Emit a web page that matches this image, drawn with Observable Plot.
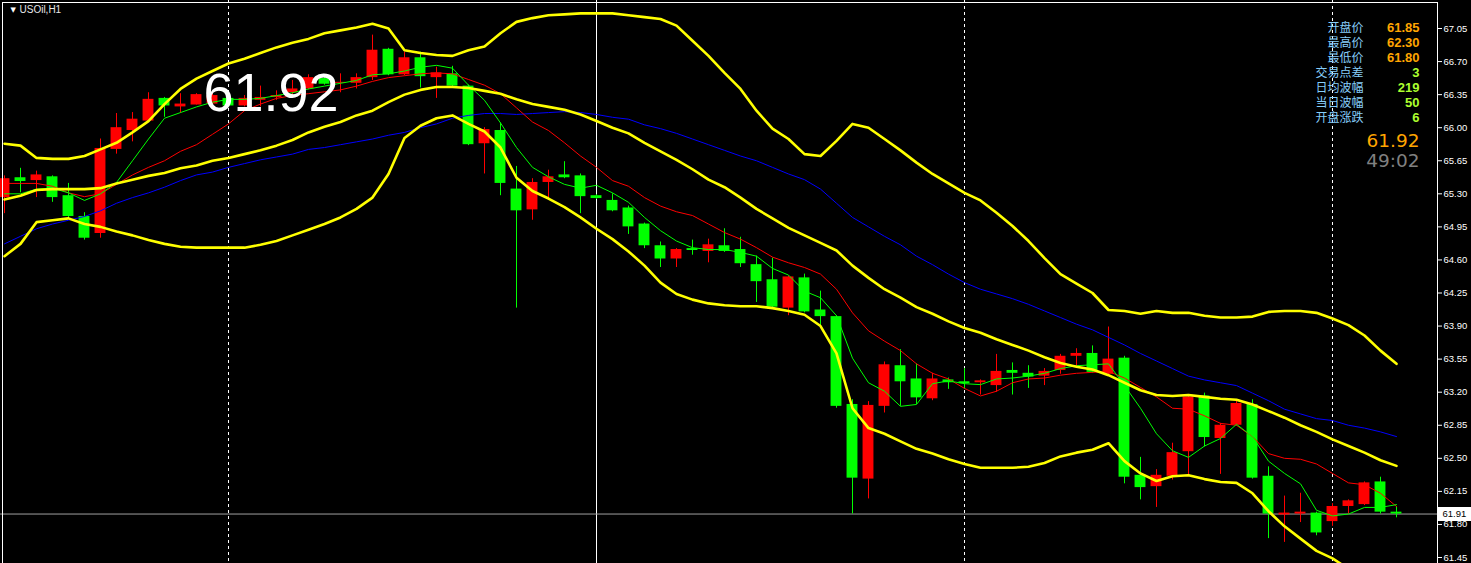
<!DOCTYPE html>
<html>
<head>
<meta charset="utf-8">
<script src="https://cdn.jsdelivr.net/npm/d3@7"></script>
<script src="https://cdn.jsdelivr.net/npm/@observablehq/plot@0.6"></script>
<style>
  html, body { margin: 0; padding: 0; background: #000; overflow: hidden; }
  #chart svg { display: block; }
</style>
</head>
<body>
<div id="chart"></div>
<script>
// ---------- DATA ----------
const symbolLabel = "USOil,H1";
const bigPriceLabel = "61.92";

const opens  = [65.26,65.47,65.44,65.48,65.28,65.06,64.88,65.77,65.97,66.07,66.31,66.22,66.24,66.25,66.31,66.23,66.29,66.32,66.37,66.41,66.52,66.47,66.47,66.53,66.83,66.56,66.74,66.53,66.57,66.44,65.83,65.97,65.35,65.13,65.42,65.50,65.49,65.28,65.23,65.15,64.98,64.75,64.61,64.72,64.69,64.75,64.71,64.55,64.39,64.09,64.41,64.07,64.00,63.07,62.28,63.05,63.48,63.34,63.13,63.33,63.31,63.30,63.27,63.43,63.40,63.37,63.43,63.58,63.61,63.39,63.56,62.32,62.20,62.31,62.57,63.16,62.71,62.85,63.07,62.31,61.90,61.91,61.92,61.83,61.99,62.01,62.25,61.93];
const highs  = [65.49,65.57,65.54,65.49,65.41,65.10,65.88,66.15,66.16,66.37,66.32,66.36,66.36,66.36,66.32,66.34,66.44,66.39,66.50,66.56,66.53,66.57,66.57,66.98,66.84,66.80,66.80,66.64,66.65,66.45,66.00,66.05,65.59,65.46,65.55,65.64,65.51,65.29,65.30,65.17,64.99,64.79,64.72,64.81,64.82,64.93,64.84,64.64,64.62,64.43,64.45,64.27,64.01,63.12,63.10,63.52,63.65,63.50,63.40,63.35,63.45,63.33,63.60,63.51,63.48,63.45,63.60,63.66,63.69,63.89,63.58,62.51,62.38,62.66,63.16,63.19,62.87,63.11,63.12,62.41,62.10,62.13,61.93,62.02,62.06,62.25,62.30,61.99];
const lows   = [65.09,65.31,65.26,65.21,65.04,64.81,64.83,65.72,65.85,66.06,66.11,66.15,66.24,66.24,66.22,66.22,66.22,66.29,66.31,66.40,66.45,66.37,66.41,66.50,66.55,66.55,66.42,66.31,66.42,65.81,65.51,65.28,64.09,65.02,65.26,65.46,65.09,65.24,65.11,64.87,64.72,64.52,64.52,64.65,64.57,64.68,64.52,64.15,64.08,64.01,64.04,63.90,63.03,61.91,62.07,62.98,63.05,63.07,63.11,63.23,63.23,63.17,63.20,63.17,63.24,63.27,63.39,63.47,63.40,63.38,62.23,62.06,61.98,62.27,62.31,62.62,62.33,62.84,62.28,61.65,61.61,61.82,61.68,61.78,61.91,62.00,61.91,61.87];
const closes = [65.46,65.43,65.50,65.26,65.06,64.83,65.78,66.00,66.09,66.30,66.23,66.25,66.35,66.34,66.23,66.31,66.32,66.34,66.41,66.53,66.46,66.48,66.53,66.82,66.56,66.74,66.54,66.58,66.44,65.82,65.98,65.41,65.12,65.42,65.48,65.47,65.27,65.25,65.12,64.95,64.75,64.61,64.71,64.70,64.76,64.69,64.56,64.37,64.10,64.42,64.05,64.00,63.05,62.29,63.06,63.49,63.31,63.14,63.34,63.30,63.29,63.32,63.42,63.40,63.36,63.42,63.58,63.61,63.41,63.55,62.30,62.19,62.32,62.56,63.15,62.72,62.85,63.08,62.29,61.91,61.92,61.93,61.71,61.99,62.05,62.24,61.93,61.91];

// Bollinger bands (yellow)
const bbUpper  = [65.83,65.81,65.68,65.67,65.67,65.70,65.77,65.84,65.95,66.07,66.25,66.41,66.52,66.60,66.68,66.73,66.79,66.85,66.90,66.94,67.00,67.03,67.06,67.10,67.05,66.82,66.79,66.77,66.76,66.82,66.86,67.00,67.12,67.16,67.19,67.20,67.21,67.21,67.21,67.19,67.17,67.15,67.08,66.92,66.76,66.58,66.41,66.18,65.99,65.88,65.72,65.70,65.86,66.04,66.00,65.88,65.76,65.63,65.51,65.41,65.31,65.23,65.10,64.96,64.80,64.62,64.45,64.35,64.25,64.07,64.06,64.03,64.06,64.04,64.04,64.01,63.99,63.99,64.00,64.05,64.06,64.06,64.04,63.98,63.91,63.80,63.64,63.50];
const bbMiddle = [65.24,65.28,65.34,65.35,65.35,65.35,65.36,65.41,65.45,65.49,65.52,65.57,65.60,65.65,65.68,65.72,65.76,65.81,65.87,65.95,66.01,66.06,66.13,66.18,66.27,66.35,66.40,66.43,66.43,66.42,66.39,66.36,66.30,66.25,66.22,66.19,66.14,66.07,66.00,65.94,65.84,65.75,65.66,65.56,65.45,65.37,65.26,65.14,65.04,64.94,64.86,64.78,64.70,64.54,64.41,64.29,64.20,64.10,64.03,63.95,63.88,63.83,63.76,63.70,63.64,63.57,63.51,63.47,63.44,63.38,63.30,63.22,63.17,63.16,63.17,63.15,63.13,63.12,63.07,63.00,62.93,62.85,62.78,62.70,62.63,62.56,62.48,62.42];
const bbLower  = [64.64,64.77,65.00,65.02,65.04,64.98,64.95,64.90,64.86,64.81,64.77,64.74,64.73,64.73,64.73,64.73,64.76,64.80,64.86,64.92,64.98,65.05,65.14,65.26,65.51,65.89,66.02,66.10,66.13,66.04,65.96,65.79,65.47,65.33,65.25,65.16,65.05,64.93,64.82,64.69,64.54,64.36,64.24,64.18,64.14,64.12,64.11,64.11,64.09,64.06,64.02,63.90,63.61,63.03,62.82,62.76,62.68,62.60,62.55,62.49,62.44,62.40,62.40,62.40,62.41,62.45,62.52,62.56,62.59,62.66,62.47,62.34,62.26,62.31,62.32,62.28,62.25,62.24,62.13,61.94,61.78,61.65,61.52,61.44,61.33,61.22,61.11,61.03];

// Moving averages
const maBlue  = [64.77,64.85,64.93,64.98,65.02,65.06,65.12,65.20,65.26,65.31,65.37,65.44,65.50,65.53,65.58,65.62,65.66,65.69,65.72,65.77,65.79,65.82,65.85,65.88,65.92,65.95,66.00,66.04,66.10,66.13,66.15,66.15,66.14,66.15,66.16,66.17,66.16,66.14,66.11,66.09,66.03,65.99,65.94,65.88,65.82,65.76,65.70,65.65,65.58,65.51,65.45,65.35,65.20,65.05,64.95,64.85,64.76,64.64,64.55,64.45,64.36,64.29,64.24,64.19,64.13,64.06,63.99,63.92,63.86,63.78,63.70,63.61,63.53,63.45,63.37,63.33,63.30,63.27,63.19,63.11,63.02,62.97,62.92,62.90,62.85,62.82,62.78,62.73];
const maRed   = [65.41,65.41,65.41,65.38,65.31,65.27,65.30,65.40,65.50,65.58,65.65,65.75,65.82,65.93,66.04,66.18,66.25,66.31,66.34,66.36,66.38,66.40,66.44,66.49,66.53,66.55,66.57,66.58,66.57,66.51,66.45,66.36,66.21,66.06,65.97,65.84,65.70,65.58,65.44,65.38,65.26,65.17,65.11,65.07,64.98,64.89,64.82,64.73,64.63,64.57,64.52,64.45,64.29,64.04,63.85,63.74,63.64,63.50,63.40,63.34,63.24,63.16,63.21,63.30,63.34,63.35,63.38,63.40,63.41,63.42,63.35,63.25,63.15,63.03,63.02,62.95,62.87,62.85,62.73,62.55,62.50,62.49,62.44,62.34,62.24,62.22,62.13,61.99];
const maGreen = [65.30,65.30,65.35,65.36,65.31,65.23,65.30,65.42,65.65,65.88,66.10,66.16,66.22,66.27,66.30,66.30,66.31,66.34,66.37,66.41,66.44,66.47,66.50,66.56,66.57,66.60,66.64,66.66,66.63,66.45,66.29,66.05,65.79,65.58,65.48,65.40,65.36,65.39,65.31,65.21,65.05,64.91,64.80,64.73,64.71,64.71,64.68,64.64,64.51,64.44,64.27,64.20,64.01,63.56,63.30,63.21,63.05,63.07,63.29,63.32,63.29,63.28,63.34,63.35,63.37,63.40,63.45,63.48,63.49,63.50,63.27,63.03,62.76,62.58,62.51,62.63,62.71,62.86,62.73,62.47,62.34,62.23,61.95,61.89,61.91,61.98,61.98,62.01];

// Period separators (bar index) and current bid
const dashedSeparators = [14, 60, 83];
const solidSeparators = [37];
const bidPrice = 61.91;

// Right price axis tick values
const yTicks = [67.05, 66.70, 66.35, 66.00, 65.65, 65.30, 64.95, 64.60, 64.25, 63.90, 63.55, 63.20, 62.85, 62.50, 62.15, 61.80, 61.45];

// Info panel
const infoLabels = ["开盘价", "最高价", "最低价", "交易点差", "日均波幅", "当日波幅", "开盘涨跌"];
const priceValues = ["61.85", "62.30", "61.80"];
const rangeValues = ["3", "219", "50", "6"];
const lastPrice = "61.92";
const countdown = "49:02";

// ---------- BUILD ----------
const candles = opens.map((o, i) => ({i, o, h: highs[i], l: lows[i], c: closes[i], up: closes[i] >= o}));
const series = arr => arr.map((v, i) => ({i, v}));
const UP = "#ff0000", DOWN = "#00ff00";
const SANS = "'Liberation Sans', Arial, sans-serif";

const plot = Plot.plot({
  width: 1471,
  height: 563,
  marginLeft: 0, marginRight: 34, marginTop: 0, marginBottom: 0,
  style: {background: "#000", color: "#fff", fontFamily: SANS, fontSize: "10px"},
  x: {type: "linear", domain: [0, 87], range: [4, 1396], axis: null},
  y: {domain: [61.45, 67.05], range: [557, 28], axis: null},
  marks: [
    Plot.ruleX(dashedSeparators, {x: d => d, stroke: "#fff", strokeDasharray: "3,3"}),
    Plot.ruleX(solidSeparators, {x: d => d, stroke: "#fff"}),
    Plot.ruleY([bidPrice], {y: d => d, stroke: "#a0a0a0"}),
    // wicks
    Plot.ruleX(candles.filter(d => d.up), {x: "i", y1: "l", y2: "h", stroke: UP, clip: true}),
    Plot.ruleX(candles.filter(d => !d.up), {x: "i", y1: "l", y2: "h", stroke: DOWN, clip: true}),
    // bodies
    Plot.rect(candles.filter(d => d.up), {x1: d => d.i - 0.34, x2: d => d.i + 0.34, y1: "o", y2: "c", fill: UP, clip: true}),
    Plot.rect(candles.filter(d => !d.up), {x1: d => d.i - 0.34, x2: d => d.i + 0.34, y1: "o", y2: "c", fill: DOWN, clip: true}),
    // indicators
    Plot.line(series(maBlue), {x: "i", y: "v", stroke: "#0000ff", strokeWidth: 1, clip: true}),
    Plot.line(series(maRed), {x: "i", y: "v", stroke: "#ff0000", strokeWidth: 1, clip: true}),
    Plot.line(series(maGreen), {x: "i", y: "v", stroke: "#00ff00", strokeWidth: 1, clip: true}),
    Plot.line(series(bbUpper), {x: "i", y: "v", stroke: "#ffff00", strokeWidth: 2.6, clip: true}),
    Plot.line(series(bbMiddle), {x: "i", y: "v", stroke: "#ffff00", strokeWidth: 2.6, clip: true}),
    Plot.line(series(bbLower), {x: "i", y: "v", stroke: "#ffff00", strokeWidth: 2.6, clip: true}),
    // symbol header
    Plot.text(["▼"], {frameAnchor: "top-left", dx: 10, dy: 7, lineAnchor: "top", fontSize: 7, fill: "#fff", fontFamily: "DejaVu Sans"}),
    Plot.text([symbolLabel], {frameAnchor: "top-left", dx: 19, dy: 5, lineAnchor: "top", textAnchor: "start", fontSize: 10, fill: "#e6e6e6"}),
    // large price watermark
    Plot.text([bigPriceLabel], {frameAnchor: "top-left", dx: 203, dy: 72, lineAnchor: "top", textAnchor: "start", fontSize: 54, fill: "#fff", fontFamily: SANS}),
    // info panel
    Plot.text([infoLabels.join("\n")], {frameAnchor: "top-right", dx: -74, dy: 21, lineAnchor: "top", textAnchor: "end", lineHeight: 1.25, fontSize: 12, fill: "#87cefa", fontFamily: "'Noto Sans CJK SC', sans-serif"}),
    Plot.text([priceValues.join("\n")], {frameAnchor: "top-right", dx: -18, dy: 21, lineAnchor: "top", textAnchor: "end", lineHeight: 15 / 13, fontSize: 13, fontWeight: "bold", fill: "#ffa500"}),
    Plot.text([rangeValues.join("\n")], {frameAnchor: "top-right", dx: -18, dy: 66, lineAnchor: "top", textAnchor: "end", lineHeight: 15 / 13, fontSize: 13, fontWeight: "bold", fill: "#adff2f"}),
    Plot.text([lastPrice], {frameAnchor: "top-right", dx: -18, dy: 133, lineAnchor: "top", textAnchor: "end", fontSize: 18.5, fill: "#ffa500", fontFamily: "'DejaVu Sans', sans-serif"}),
    Plot.text([countdown], {frameAnchor: "top-right", dx: -18, dy: 153, lineAnchor: "top", textAnchor: "end", fontSize: 18.5, fill: "#808080", fontFamily: "'DejaVu Sans', sans-serif"}),
    // chart border and price axis
    Plot.frame({stroke: "#fff", insetLeft: 2, insetTop: 2, insetBottom: -4}),
    Plot.axisY(yTicks, {anchor: "right", tickSize: 4, tickPadding: 2, tickFormat: d => d.toFixed(2), fontSize: 9.5, color: "#fff", label: null}),
    // bid price tag on the axis (white box + black label)
    Plot.ruleY([bidPrice], {y: d => d, stroke: "#fff", strokeWidth: 14, dx: 1438}),
    Plot.text([bidPrice], {y: d => d, text: d => d.toFixed(2), frameAnchor: "right", dx: 5, textAnchor: "start", fontSize: 9.5, fill: "#000"})
  ]
});

document.getElementById("chart").appendChild(plot);
</script>
</body>
</html>
